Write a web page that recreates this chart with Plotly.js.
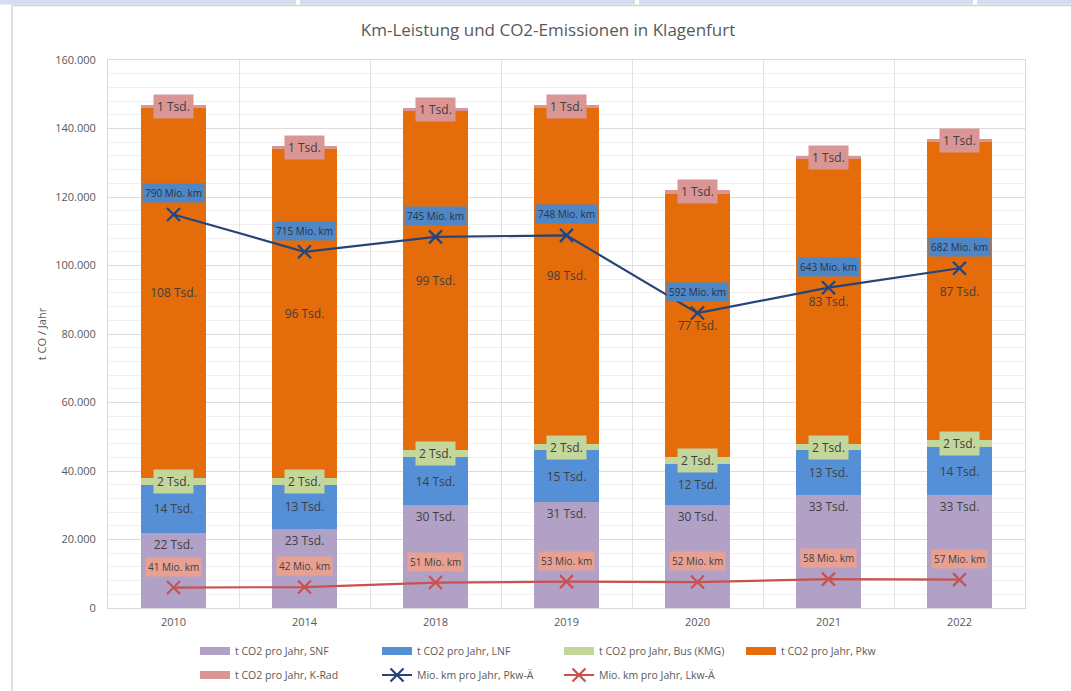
<!DOCTYPE html>
<html>
<head>
<meta charset="utf-8">
<script src="https://cdn.plot.ly/plotly-3.0.1.min.js"></script>
<style>html,body{margin:0;padding:0;background:#fff;}#chart{width:1071px;height:691px;}</style>
</head>
<body>
<div id="chart"></div>
<script>
// ---- data ----
const years = ['2010', '2014', '2018', '2019', '2020', '2021', '2022'];
const co2SNF  = [22000, 23000, 30000, 31000, 30000, 33000, 33000];
const co2LNF  = [14000, 13000, 14000, 15000, 12000, 13000, 14000];
const co2Bus  = [2000, 2000, 2000, 2000, 2000, 2000, 2000];
const co2Pkw  = [108000, 96000, 99000, 98000, 77000, 83000, 87000];
const co2KRad = [1000, 1000, 1000, 1000, 1000, 1000, 1000];
const kmPkwAe = [790, 715, 745, 748, 592, 643, 682];
const kmLkwAe = [41, 42, 51, 53, 52, 58, 57];
const seriesNames = [
  't CO2 pro Jahr, SNF', 't CO2 pro Jahr, LNF', 't CO2 pro Jahr, Bus (KMG)',
  't CO2 pro Jahr, Pkw', 't CO2 pro Jahr, K-Rad',
  'Mio. km pro Jahr, Pkw-Ä', 'Mio. km pro Jahr, Lkw-Ä'
];
const chartTitle = 'Km-Leistung und CO2-Emissionen in Klagenfurt';
const yTitle = 't CO / Jahr';

// ---- style ----
const FONT = 'Open Sans, Noto Sans, sans-serif';
const TXT = '#595959';
const LBL = '#404040';
const colors = {
  snf: '#b2a1c7', lnf: '#5590d6', bus: '#c3d69b', pkw: '#e46c0a', krad: '#d99694',
  linePkw: '#264478', lineLkw: '#c9514e', boxPkw: '#4f86c6', boxLkw: '#e8a093'
};
const tsd = arr => arr.map(v => Math.round(v / 1000) + ' Tsd.');

function barTrace(name, vals, color, text, anchor) {
  const t = {
    type: 'bar', name: name, x: years, y: vals, marker: {color: color},
    showlegend: false, hoverinfo: 'name+y'
  };
  if (text) {
    t.text = tsd(vals);
    t.textposition = 'inside';
    t.insidetextanchor = anchor;
    t.constraintext = 'none';
    t.textangle = 0;
    t.insidetextfont = {family: FONT, size: 12, color: LBL};
    t.texttemplate = '%{text}';
  } else {
    t.textposition = 'none';
  }
  return t;
}
// legend swatch (wide flat rectangle like the reference) for a bar series
function swatch(name, color, legend) {
  return {type: 'scatter', mode: 'lines', name: name, x: [null], y: [null],
    line: {color: color, width: 8}, legend: legend, hoverinfo: 'skip'};
}

const barColors = [colors.snf, colors.lnf, colors.bus, colors.pkw, colors.krad];
const traces = [
  barTrace(seriesNames[0], co2SNF, colors.snf, true, 'end'),
  barTrace(seriesNames[1], co2LNF, colors.lnf, true, 'middle'),
  barTrace(seriesNames[2], co2Bus, colors.bus, false),
  barTrace(seriesNames[3], co2Pkw, colors.pkw, true, 'middle'),
  barTrace(seriesNames[4], co2KRad, colors.krad, false),
  swatch(seriesNames[0], barColors[0], 'legend'),
  swatch(seriesNames[1], barColors[1], 'legend'),
  swatch(seriesNames[2], barColors[2], 'legend'),
  swatch(seriesNames[3], barColors[3], 'legend'),
  swatch(seriesNames[4], barColors[4], 'legend2'),
  {
    type: 'scatter', mode: 'lines+markers', name: seriesNames[5], x: years, y: kmPkwAe,
    yaxis: 'y2', legend: 'legend2',
    line: {color: colors.linePkw, width: 2.2},
    marker: {symbol: 'x-thin', size: 13, color: colors.linePkw, line: {width: 2.2, color: colors.linePkw}}
  },
  {
    type: 'scatter', mode: 'lines+markers', name: seriesNames[6], x: years, y: kmLkwAe,
    yaxis: 'y2', legend: 'legend2',
    line: {color: colors.lineLkw, width: 2.2},
    marker: {symbol: 'x-thin', size: 13, color: colors.lineLkw, line: {width: 2.2, color: colors.lineLkw}}
  }
];

// ---- labels with filled boxes (x = category index) ----
const annotations = [];
years.forEach((yr, i) => {
  const baseBus = co2SNF[i] + co2LNF[i];
  const total = baseBus + co2Bus[i] + co2Pkw[i] + co2KRad[i];
  annotations.push({
    x: i, y: baseBus + co2Bus[i] / 2, xref: 'x', yref: 'y', showarrow: false,
    text: Math.round(co2Bus[i] / 1000) + ' Tsd.', bgcolor: colors.bus, borderpad: 3,
    font: {family: FONT, size: 12, color: LBL}
  });
  annotations.push({
    x: i, y: total - co2KRad[i] / 2, xref: 'x', yref: 'y', showarrow: false,
    text: Math.round(co2KRad[i] / 1000) + ' Tsd.', bgcolor: colors.krad, borderpad: 3,
    font: {family: FONT, size: 12, color: LBL}
  });
  annotations.push({
    x: i, y: kmPkwAe[i], xref: 'x', yref: 'y2', showarrow: false, yshift: 21,
    text: kmPkwAe[i] + ' Mio. km', bgcolor: colors.boxPkw, borderpad: 2,
    font: {family: FONT, size: 10, color: '#2a3344'}
  });
  annotations.push({
    x: i, y: kmLkwAe[i], xref: 'x', yref: 'y2', showarrow: false, yshift: 21,
    text: kmLkwAe[i] + ' Mio. km', bgcolor: colors.boxLkw, borderpad: 2,
    font: {family: FONT, size: 10, color: LBL}
  });
});

// ---- frame decoration (paper coords from plot area 108..1025 x 60..608) ----
const W = 1071, H = 691;
const L = 108, R = 1025, T = 60, B = 608;
const px = v => (v - L) / (R - L);
const py = v => (B - v) / (B - T);
const shapes = [];
[[0, 296], [300, 635], [639, 973], [977, 1071]].forEach(s => {
  shapes.push({type: 'rect', xref: 'paper', yref: 'paper', x0: px(s[0]), x1: px(s[1]),
    y0: py(4.5), y1: py(0), fillcolor: '#d3def1', line: {width: 0}, layer: 'above'});
});
shapes.push({type: 'line', xref: 'paper', yref: 'paper', x0: px(12), x1: px(1071),
  y0: py(5.5), y1: py(5.5), line: {color: '#d4d4d4', width: 1.5}});
shapes.push({type: 'line', xref: 'paper', yref: 'paper', x0: px(12), x1: px(12),
  y0: py(5.5), y1: py(691), line: {color: '#d4d4d4', width: 1.5}});

const legendBase = {
  orientation: 'h', xref: 'container', yref: 'container', xanchor: 'left', yanchor: 'middle',
  entrywidth: 137, entrywidthmode: 'pixels', traceorder: 'normal', itemwidth: 30,
  font: {family: FONT, size: 10.5, color: TXT}, bgcolor: 'rgba(0,0,0,0)'
};

const layout = {
  width: W, height: H,
  margin: {l: L, r: W - R, t: T, b: H - B, pad: 0},
  paper_bgcolor: '#ffffff', plot_bgcolor: '#ffffff',
  separators: ',.',
  font: {family: FONT, color: TXT, size: 11},
  title: {text: chartTitle, xref: 'container', yref: 'container', x: 548 / W, xanchor: 'center',
    y: 1 - 30 / H, yanchor: 'middle', font: {family: FONT, size: 17, color: TXT}},
  barmode: 'stack', bargap: 0.5,
  showlegend: true,
  xaxis: {
    type: 'category', range: [-0.5, years.length - 0.5], autorange: false,
    tickson: 'boundaries', showgrid: true, gridcolor: '#e2e2e2', gridwidth: 1,
    showline: true, linecolor: '#d9d9d9', mirror: true, ticks: '', ticklen: 0,
    ticklabelstandoff: 4,
    tickfont: {family: FONT, size: 11, color: TXT}, fixedrange: true
  },
  yaxis: {
    range: [0, 160000], autorange: false, dtick: 20000, tickformat: ',d', showgrid: true, gridcolor: '#dcdcdc',
    minor: {dtick: 4000, showgrid: true, gridcolor: '#f0f0f0', gridwidth: 1},
    showline: true, linecolor: '#d9d9d9', mirror: true, zeroline: false, ticks: '',
    ticklabelstandoff: 9,
    tickfont: {family: FONT, size: 11, color: TXT},
    title: {text: yTitle, standoff: 6, font: {family: FONT, size: 11, color: TXT}},
    automargin: false
  },
  yaxis2: {overlaying: 'y', side: 'right', range: [0, 1100], autorange: false, visible: false, showgrid: false},
  legend: Object.assign({}, legendBase, {x: 195 / W, y: 1 - 651 / H}),
  legend2: Object.assign({}, legendBase, {x: 195 / W, y: 1 - 675 / H}),
  annotations: annotations,
  shapes: shapes
};

Plotly.newPlot('chart', traces, layout, {displayModeBar: false, staticPlot: true});
</script>
</body>
</html>
